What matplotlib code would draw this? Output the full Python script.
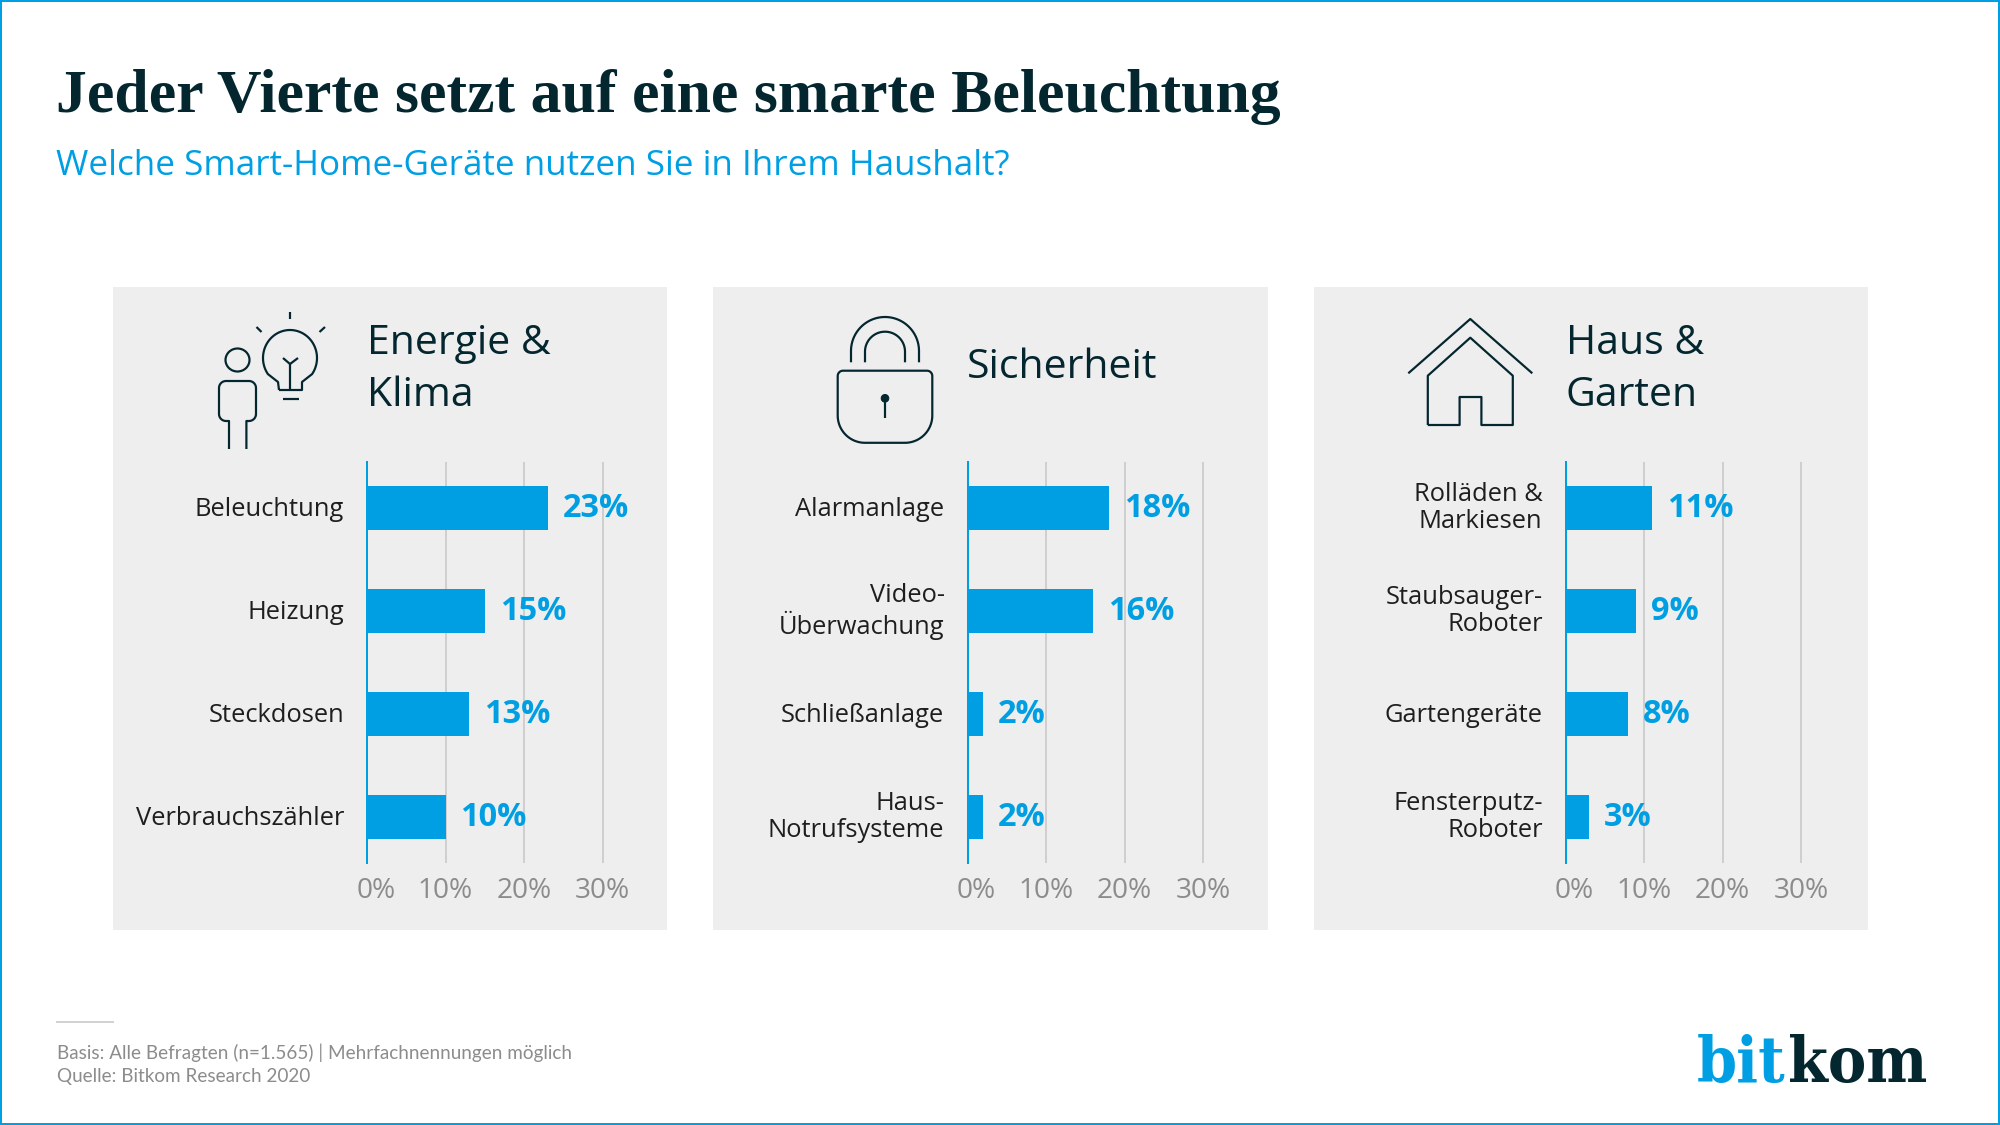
import numpy as np
import matplotlib
matplotlib.use("Agg")
import matplotlib.pyplot as plt
from matplotlib.path import Path
from matplotlib.patches import PathPatch, Rectangle, Ellipse, Circle
from matplotlib.transforms import ScaledTranslation

# ---------- data ----------
panel_titles = ["Energie &\nKlima", "Sicherheit", "Haus &\nGarten"]
energy_labels = ["Beleuchtung", "Heizung", "Steckdosen", "Verbrauchszähler"]
energy_values = [23, 15, 13, 10]
security_labels = ["Alarmanlage", "Video-\nÜberwachung", "Schließanlage", "Haus-\nNotrufsysteme"]
security_values = [18, 16, 2, 2]
home_labels = ["Rolläden &\nMarkiesen", "Staubsauger-\nRoboter", "Gartengeräte", "Fensterputz-\nRoboter"]
home_values = [11, 9, 8, 3]
axis_ticks = [0, 10, 20, 30]
tick_labels = ["0%", "10%", "20%", "30%"]

title = "Jeder Vierte setzt auf eine smarte Beleuchtung"
subtitle = "Welche Smart-Home-Geräte nutzen Sie in Ihrem Haushalt?"
note_lines = ["Basis: Alle Befragten (n=1.565) | Mehrfachnennungen möglich", "Quelle: Bitkom Research 2020"]

# ---------- style ----------
BLUE = "#009FE3"
DARK = "#04262F"
PANEL = "#EEEEEE"
GREY = "#8C8C8C"
GRID = "#C8C8C8"
LABEL = "#1E1E1E"
SANS = "Open Sans"

W, H = 2000, 1125
fig = plt.figure(figsize=(W / 100, H / 100), dpi=100, facecolor="white")
bg = fig.add_axes([0, 0, 1, 1], zorder=0)
bg.set_xlim(0, W)
bg.set_ylim(H, 0)
bg.axis("off")

def px(v):
    return v * 0.72

bg.add_patch(Rectangle((0.75, 0.75), W - 1.5, H - 1.5, fill=False, ec=BLUE, lw=px(2.0)))

bg.text(56, 112, title, fontsize=px(61.8), family="Liberation Serif", weight="bold", color=DARK, va="baseline")
bg.text(56, 175, subtitle, fontsize=px(35), family=SANS, color=BLUE, va="baseline")

bg.plot([57, 113], [1021.5, 1021.5], color="#D2D2D2", lw=px(2))
bg.text(57, 1059, note_lines[0], fontsize=px(18.9), family="Lato", color=GREY, va="baseline")
bg.text(57, 1082, note_lines[1], fontsize=px(18.9), family="Lato", color=GREY, va="baseline")

bg.text(1785, 1082, "bit", fontsize=px(64), family="DejaVu Serif", stretch="condensed", weight="bold", color=BLUE, ha="right", va="baseline")
bg.text(1788, 1082, "kom", fontsize=px(64), family="DejaVu Serif", stretch="condensed", weight="bold", color=DARK, ha="left", va="baseline")

# ---------- panels ----------
panel_left = [112.5, 713, 1313.5]
panel_width = 554.5
axis_left = [367, 967.5, 1565.5]
PX_PER_PCT = 7.85
AX_TOP, AX_BOTTOM = 462, 863
ROW0, ROW_STEP, BAR_PX = 508.2, 103, 44

panels = [(energy_labels, energy_values), (security_labels, security_values), (home_labels, home_values)]

for i, (cats, vals) in enumerate(panels):
    bg.add_patch(Rectangle((panel_left[i], 287), panel_width, 643, fc=PANEL, ec="none"))
    if "\n" in panel_titles[i]:
        l1, l2 = panel_titles[i].split("\n")
        bg.text(axis_left[i], 354, l1, fontsize=px(41), family=SANS, color=DARK, va="baseline")
        bg.text(axis_left[i], 406, l2, fontsize=px(41), family=SANS, color=DARK, va="baseline")
    else:
        bg.text(axis_left[i] - 1, 378.5, panel_titles[i], fontsize=px(41), family=SANS, color=DARK, va="baseline")

    xmax = 32
    ax = fig.add_axes([axis_left[i] / W, 1 - AX_BOTTOM / H, xmax * PX_PER_PCT / W, (AX_BOTTOM - AX_TOP) / H], zorder=2)
    ax.patch.set_alpha(0)
    y = np.arange(len(cats))
    ax.set_xlim(0, xmax)
    ax.set_ylim((AX_BOTTOM - ROW0) / ROW_STEP, (AX_TOP - ROW0) / ROW_STEP)
    ax.set_axisbelow(True)
    ax.grid(axis="x", color=GRID, lw=px(1.6))
    ax.barh(y, vals, height=BAR_PX / ROW_STEP, color=BLUE, zorder=3)
    ax.set_xticks(axis_ticks, tick_labels)
    ax.set_yticks(y, cats)
    ax.tick_params(axis="y", length=0, pad=px(23), labelsize=px(25.5), labelcolor=LABEL)
    ax.tick_params(axis="x", length=0, pad=px(14.5), labelsize=px(28), labelcolor=GREY)
    for lab, cat in zip(ax.get_yticklabels(), cats):
        shift = 4.5 if "\n" in cat else 1.5
        lab.set_family(SANS)
        lab.set_multialignment("right")
        lab.set_linespacing(1.12)
        lab.set_transform(lab.get_transform() + ScaledTranslation(0, shift / 100, fig.dpi_scale_trans))
    for lab in ax.get_xticklabels():
        lab.set_family(SANS)
    zero = ax.get_xticklabels()[0]
    zero.set_transform(zero.get_transform() + ScaledTranslation(9 / 100, 0, fig.dpi_scale_trans))
    for s in ["top", "right", "bottom"]:
        ax.spines[s].set_visible(False)
    ax.spines["left"].set_color(BLUE)
    ax.spines["left"].set_linewidth(px(2))
    ax.spines["left"].set_zorder(4)
    for yy, v in zip(y, vals):
        ax.annotate(f"{v}%", (v, yy), xytext=(px(15), 0), textcoords="offset points",
                    va="center", ha="left", fontsize=px(32.5), family=SANS, weight="bold", color=BLUE, zorder=5)

# ---------- icons ----------
ICON = dict(fill=False, ec=DARK, lw=px(2.2), capstyle="butt", joinstyle="round", zorder=2)

def stroke(points):
    pts = np.array(points, float)
    bg.add_patch(PathPatch(Path(pts), **ICON))

def arc(cx, cy, rx, ry, a0, a1, n=60):
    t = np.radians(np.linspace(a0, a1, n))
    return np.c_[cx + rx * np.cos(t), cy - ry * np.sin(t)]

# bulb
bulb = np.vstack([[[279, 390]], [[278, 382]], arc(290, 358, 27, 28, 215, -35), [[302, 382]], [[302, 390]], [[279, 390]]])
stroke(bulb)
stroke([[290, 390], [290, 364]])
stroke([[283, 358], [290, 364], [298, 358]])
stroke([[282.5, 399], [298.5, 399]])
stroke([[290, 312], [290, 319]])
stroke([[256.5, 327], [261.5, 332]])
stroke([[325, 327], [319.5, 332]])
# person
bg.add_patch(Ellipse((237.5, 360), 24, 23, **ICON))
person = np.vstack([[[229, 449], [229, 421], [226, 421]], arc(226, 414, 7, 7, 270, 180, 12), arc(226, 388, 7, 7, 180, 90, 12),
                    arc(249, 388, 7, 7, 90, 0, 12), arc(249, 414, 7, 7, 0, -90, 12), [[246.4, 421], [246.4, 449]]])
stroke(person)
# padlock
stroke(np.vstack([[[851, 362.3]], arc(885, 351, 34, 34, 180, 0), [[919, 362.3]]]))
stroke(np.vstack([[[865, 362.3]], arc(885, 351.7, 20, 20, 180, 0), [[905, 362.3]]]))
body = np.vstack([arc(843, 376, 5.3, 5.3, 180, 90, 12), arc(927, 376, 5.3, 5.3, 90, 0, 12),
                  arc(905, 415.5, 27.3, 27.3, 0, -90, 24), arc(865, 415.5, 27.3, 27.3, 270, 180, 24), [[837.7, 376]]])
stroke(body)
bg.add_patch(Circle((885, 398.3), 3.8, fc=DARK, ec=DARK, lw=px(1), zorder=2))
stroke([[885, 398.3], [885, 417.7]])
# house
stroke([[1408.3, 373.3], [1470.3, 319], [1532.3, 373.3]])
stroke([[1427.8, 425], [1427.8, 375.7], [1470.3, 337.7], [1512.8, 375.7], [1512.8, 425], [1481.4, 425],
        [1481.4, 397], [1459.6, 397], [1459.6, 425], [1427.8, 425]])

fig.savefig("out.png", dpi=100, facecolor="white")
